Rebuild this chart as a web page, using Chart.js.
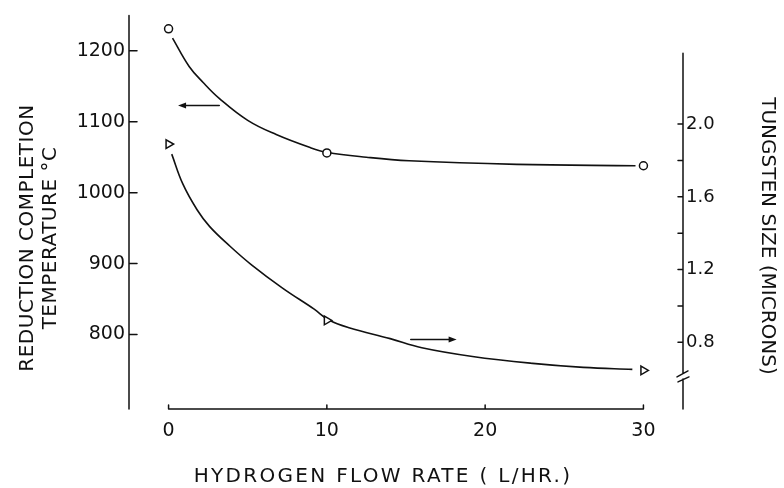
<!DOCTYPE html>
<html>
<head>
<meta charset="utf-8">
<script src="https://cdn.jsdelivr.net/npm/chart.js@4.4.0/dist/chart.umd.min.js"></script>
<style>
  html, body { margin: 0; padding: 0; background: #fff; }
  #wrap { width: 784px; height: 488px; }
</style>
</head>
<body>
<div id="wrap"><canvas id="flowChart" width="784" height="488"></canvas></div>
<script>
// ---- data ----
const flowRates = [0, 10, 30];                    // measured points, L/hr
const tempPoints = [1231, 1056, 1038];            // reduction completion temp, °C
const sizePoints = [1.89, 0.92, 0.645];           // tungsten size, microns

// hand-drawn fit curves
const tempCurveX = [0.25, 1.3, 2.2, 3.2, 5.0, 6.8, 8.9, 10, 12.5, 15.2, 22, 29.5];
const tempCurveY = [1218, 1178, 1155, 1133, 1102, 1082, 1064, 1057, 1050, 1045, 1040, 1038];
const sizeCurveX = [0.2, 0.9, 1.8, 2.6, 3.9, 5.2, 7.2, 9.2, 10.1, 11.4, 14.0, 16.0, 19.2, 23.0, 26.2, 29.3];
const sizeCurveY = [1.835, 1.671, 1.529, 1.436, 1.327, 1.229, 1.098, 0.982, 0.924, 0.88, 0.82, 0.77, 0.722, 0.684, 0.662, 0.651];

const xTicks = [0, 10, 20, 30];
const tempTicks = [800, 900, 1000, 1100, 1200];
const sizeTicks = [0.8, 1.0, 1.2, 1.4, 1.6, 1.8, 2.0];
const sizeLabelled = [0.8, 1.2, 1.6, 2.0];

// arrows: [x from, x to, value on own axis]
const arrowTemp = [3.2, 0.6, 1123];
const arrowSize = [15.3, 18.2, 0.815];

const INK = '#111';
const FONT = 'DejaVu Sans';

function pts(xs, ys) { return xs.map((x, i) => ({ x: x, y: ys[i] })); }

// axes, tick marks, titles and arrows in the old hand-drawn style
const inkPlugin = {
  id: 'ink',
  afterDraw(chart) {
    const { ctx, chartArea: a, scales } = chart;
    const sx = scales.x, yT = scales.yTemp, yS = scales.ySize;
    ctx.save();
    ctx.strokeStyle = INK;
    ctx.fillStyle = INK;
    ctx.lineWidth = 1.5;
    ctx.lineCap = 'round';

    ctx.beginPath();
    // left axis + inward ticks
    ctx.moveTo(a.left, a.top);
    ctx.lineTo(a.left, a.bottom);
    tempTicks.forEach(v => {
      const py = yT.getPixelForValue(v);
      ctx.moveTo(a.left, py);
      ctx.lineTo(a.left + 8, py);
    });
    // x axis only across the data range, ticks point up
    const x0 = sx.getPixelForValue(xTicks[0]);
    const x1 = sx.getPixelForValue(xTicks[xTicks.length - 1]);
    ctx.moveTo(x0, a.bottom);
    ctx.lineTo(x1, a.bottom);
    xTicks.forEach(v => {
      const px = sx.getPixelForValue(v);
      ctx.moveTo(px, a.bottom);
      ctx.lineTo(px, a.bottom - 4);
    });
    // right axis with a break near the bottom
    const rx = a.right;
    const rTop = yS.getPixelForValue(2.39);
    const brk = yS.getPixelForValue(0.615);
    ctx.moveTo(rx, rTop);
    ctx.lineTo(rx, brk - 3);
    ctx.moveTo(rx, brk + 3);
    ctx.lineTo(rx, a.bottom);
    ctx.moveTo(rx - 6, brk + 1);
    ctx.lineTo(rx + 5, brk - 5);
    ctx.moveTo(rx - 5, brk + 6);
    ctx.lineTo(rx + 6, brk + 1);
    sizeTicks.forEach(v => {
      const py = yS.getPixelForValue(v);
      ctx.moveTo(rx, py);
      ctx.lineTo(rx - 5, py);
    });
    ctx.stroke();

    // arrows
    function arrow(ax, scale) {
      const xa = sx.getPixelForValue(ax[0]);
      const xb = sx.getPixelForValue(ax[1]);
      const py = scale.getPixelForValue(ax[2]);
      const dir = xb > xa ? 1 : -1;
      ctx.beginPath();
      ctx.moveTo(xa, py);
      ctx.lineTo(xb - dir * 6, py);
      ctx.stroke();
      ctx.beginPath();
      ctx.moveTo(xb, py);
      ctx.lineTo(xb - dir * 8, py - 3);
      ctx.lineTo(xb - dir * 8, py + 3);
      ctx.closePath();
      ctx.fill();
    }
    arrow(arrowTemp, yT);
    arrow(arrowSize, yS);

    // axis titles
    ctx.font = '20px "' + FONT + '"';
    ctx.textAlign = 'center';
    ctx.textBaseline = 'middle';
    ctx.save();
    ctx.translate(28, 238);
    ctx.rotate(-Math.PI / 2);
    ctx.letterSpacing = '0.5px';
    ctx.fillText('REDUCTION COMPLETION', 0, 0);
    ctx.fillText('TEMPERATURE \u00B0C', 0, 23);
    ctx.restore();

    ctx.save();
    ctx.translate(767, 236);
    ctx.rotate(Math.PI / 2);
    ctx.fillText('TUNGSTEN SIZE (MICRONS)', 0, 0);
    ctx.restore();

    ctx.save();
    ctx.letterSpacing = '2.3px';
    ctx.fillText('HYDROGEN FLOW RATE ( L/HR.)', 383, 477);
    ctx.restore();

    ctx.restore();
  }
};

const ctx = document.getElementById('flowChart');
new Chart(ctx, {
  type: 'line',
  data: {
    datasets: [
      {
        label: 'Temperature points',
        data: pts(flowRates, tempPoints),
        yAxisID: 'yTemp',
        showLine: false,
        pointStyle: 'circle',
        pointRadius: 4,
        pointBorderWidth: 1.5,
        pointBorderColor: INK,
        pointBackgroundColor: '#fff'
      },
      {
        label: 'Size points',
        data: pts(flowRates, sizePoints),
        yAxisID: 'ySize',
        showLine: false,
        pointStyle: 'triangle',
        pointRotation: 90,
        pointRadius: 5,
        pointBorderWidth: 1.5,
        pointBorderColor: INK,
        pointBackgroundColor: '#fff'
      },
      {
        label: 'Temperature curve',
        data: pts(tempCurveX, tempCurveY),
        yAxisID: 'yTemp',
        borderColor: INK,
        borderWidth: 1.6,
        pointRadius: 0,
        tension: 0.4
      },
      {
        label: 'Size curve',
        data: pts(sizeCurveX, sizeCurveY),
        yAxisID: 'ySize',
        borderColor: INK,
        borderWidth: 1.6,
        pointRadius: 0,
        tension: 0.4
      }
    ]
  },
  options: {
    responsive: false,
    animation: false,
    devicePixelRatio: 1,
    layout: { padding: { top: 12, left: 0, right: 0, bottom: 0 } },
    plugins: { legend: { display: false }, tooltip: { enabled: false } },
    scales: {
      x: {
        type: 'linear',
        min: -2.5,
        max: 32.5,
        afterBuildTicks: s => { s.ticks = xTicks.map(v => ({ value: v })); },
        afterFit: s => { s.height = 79; },
        grid: { display: false, drawTicks: false },
        border: { display: false },
        ticks: { padding: 11, color: INK, font: { family: FONT, size: 19 }, maxRotation: 0, callback: v => String(v) }
      },
      yTemp: {
        type: 'linear',
        position: 'left',
        min: 695,
        max: 1250,
        afterBuildTicks: s => { s.ticks = tempTicks.map(v => ({ value: v })); },
        afterFit: s => { s.width = 129; },
        grid: { display: false, drawTicks: false },
        border: { display: false },
        ticks: { padding: 4, color: INK, font: { family: FONT, size: 19 }, callback: v => String(v) }
      },
      ySize: {
        type: 'linear',
        position: 'right',
        min: 0.433,
        max: 2.598,
        afterBuildTicks: s => { s.ticks = sizeTicks.map(v => ({ value: v })); },
        afterFit: s => { s.width = 101; },
        grid: { display: false, drawTicks: false },
        border: { display: false },
        ticks: {
          padding: 3,
          color: INK,
          font: { family: FONT, size: 18 },
          callback: v => sizeLabelled.includes(v) ? v.toFixed(1) : ''
        }
      }
    }
  },
  plugins: [inkPlugin]
});
</script>
</body>
</html>
